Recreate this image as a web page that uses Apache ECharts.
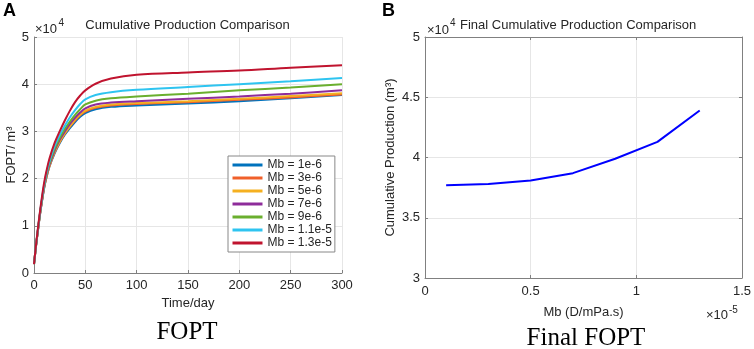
<!DOCTYPE html>
<html>
<head>
<meta charset="utf-8">
<script src="https://cdn.jsdelivr.net/npm/echarts@6/dist/echarts.min.js"></script>
<style>
  html, body { margin: 0; padding: 0; background: #fff; }
  #chart { width: 754px; height: 349px; }
</style>
</head>
<body>
<div id="chart"></div>
<script>
// time axis (day) and FOPT curves, values in units of 1e4 m3
const days = [0, 2, 4, 6, 8, 10, 12, 15, 20, 25, 30, 35, 40, 45, 50, 60, 75, 100, 150, 200, 250, 300];
const foptMb1e6  = [0.19, 0.58, 0.93, 1.26, 1.55, 1.81, 2.01, 2.25, 2.53, 2.75, 2.93, 3.07, 3.20, 3.31, 3.39, 3.47, 3.52, 3.55, 3.59, 3.64, 3.70, 3.77];
const foptMb3e6  = [0.19, 0.58, 0.93, 1.27, 1.56, 1.82, 2.02, 2.26, 2.55, 2.77, 2.95, 3.10, 3.23, 3.34, 3.42, 3.50, 3.55, 3.58, 3.62, 3.67, 3.72, 3.78];
const foptMb5e6  = [0.19, 0.58, 0.94, 1.27, 1.56, 1.83, 2.03, 2.27, 2.56, 2.78, 2.96, 3.11, 3.25, 3.36, 3.44, 3.52, 3.57, 3.60, 3.64, 3.69, 3.75, 3.81];
const foptMb7e6  = [0.19, 0.58, 0.94, 1.28, 1.57, 1.84, 2.05, 2.29, 2.59, 2.82, 3.00, 3.16, 3.29, 3.40, 3.49, 3.57, 3.61, 3.64, 3.69, 3.74, 3.80, 3.87];
const foptMb9e6  = [0.19, 0.59, 0.95, 1.29, 1.59, 1.86, 2.07, 2.32, 2.63, 2.86, 3.05, 3.21, 3.35, 3.47, 3.57, 3.65, 3.70, 3.74, 3.80, 3.87, 3.93, 4.00];
const foptMb11e6 = [0.19, 0.59, 0.96, 1.30, 1.61, 1.88, 2.10, 2.36, 2.68, 2.92, 3.12, 3.30, 3.45, 3.58, 3.68, 3.77, 3.83, 3.88, 3.94, 4.00, 4.06, 4.13];
const foptMb13e6 = [0.19, 0.60, 0.98, 1.33, 1.65, 1.93, 2.15, 2.42, 2.75, 3.00, 3.23, 3.44, 3.62, 3.76, 3.87, 4.01, 4.12, 4.20, 4.25, 4.29, 4.35, 4.40];
const curveNames = ["Mb = 1e-6", "Mb = 3e-6", "Mb = 5e-6", "Mb = 7e-6", "Mb = 9e-6", "Mb = 1.1e-5", "Mb = 1.3e-5"];
const curveColors = ["#0072BD", "#F0602A", "#F5B020", "#8E2C9A", "#6AAF2E", "#2EC4F0", "#C0142F"];

// final FOPT vs Mb (Mb in 1e-5 D/mPa.s, FOPT in 1e4 m3)
const mbValues = [0.1, 0.3, 0.5, 0.7, 0.9, 1.1, 1.3];
const finalFopt = [3.77, 3.78, 3.81, 3.87, 3.99, 4.13, 4.39];

const font = "Liberation Sans, Arial, sans-serif";
const txt = "#262626";
const axisGray = "#808080";
const gridGray = "#e6e6e6";

const curves = [foptMb1e6, foptMb3e6, foptMb5e6, foptMb7e6, foptMb9e6, foptMb11e6, foptMb13e6];

function axisBase(extra) {
  return Object.assign({
    type: "value",
    axisLine: { show: true, onZero: false, lineStyle: { color: axisGray, width: 1 } },
    axisTick: { show: true, inside: true, length: 3, lineStyle: { color: axisGray } },
    axisLabel: { fontSize: 13, color: txt, fontFamily: font },
    splitLine: { show: true, lineStyle: { color: gridGray, width: 1 } },
    nameTextStyle: { fontSize: 13, color: txt, fontFamily: font }
  }, extra);
}

const chart = echarts.init(document.getElementById("chart"));

const seriesA = curves.map(function (vals, i) {
  return {
    name: curveNames[i],
    type: "line",
    xAxisIndex: 0,
    yAxisIndex: 0,
    symbol: "none",
    smooth: 0.35,
    lineStyle: { color: curveColors[i], width: 2 },
    itemStyle: { color: curveColors[i] },
    data: days.map(function (d, k) { return [d, vals[k]]; })
  };
});

function label(x, y, text, size, align) {
  return {
    type: "text",
    x: x,
    y: y,
    style: {
      text: text,
      font: size + "px " + font,
      fill: txt,
      align: align || "left",
      verticalAlign: "middle",
      textAlign: align || "left",
      textVerticalAlign: "middle"
    }
  };
}

const option = {
  animation: false,
  backgroundColor: "#fff",
  grid: [
    { left: 34, top: 37, width: 308, height: 236 },
    { left: 425, top: 37, width: 317, height: 241 }
  ],
  legend: {
    data: curveNames,
    orient: "vertical",
    left: 228,
    top: 156,
    itemWidth: 30,
    itemHeight: 14,
    itemGap: 1,
    padding: [3, 3, 3, 3],
    borderColor: "#888",
    borderWidth: 1,
    backgroundColor: "#fff",
    itemStyle: { opacity: 0 },
    lineStyle: { width: 3 },
    textStyle: { fontSize: 12, color: txt, fontFamily: font }
  },
  xAxis: [
    axisBase({
      gridIndex: 0, min: 0, max: 300, interval: 50,
      axisLabel: { fontSize: 13, color: txt, fontFamily: font, margin: 6 },
      name: "Time/day", nameLocation: "middle", nameGap: 24
    }),
    axisBase({
      gridIndex: 1, min: 0, max: 1.5, interval: 0.5,
      axisLabel: { fontSize: 13, color: txt, fontFamily: font, margin: 7 },
      name: "Mb (D/mPa.s)", nameLocation: "middle", nameGap: 28
    }),
    axisBase({
      gridIndex: 1, min: 0, max: 1.5, interval: 0.5, position: "top",
      axisLabel: { show: false }, splitLine: { show: false }
    })
  ],
  yAxis: [
    axisBase({
      gridIndex: 0, min: 0, max: 5, interval: 1,
      axisLabel: { fontSize: 13, color: txt, fontFamily: font, margin: 5 },
      name: "FOPT/ m³", nameLocation: "middle", nameGap: 15
    }),
    axisBase({
      gridIndex: 1, min: 3, max: 5, interval: 0.5,
      axisLabel: { fontSize: 13, color: txt, fontFamily: font, margin: 5 },
      name: "Cumulative Production (m³)", nameLocation: "middle", nameGap: 28
    }),
    axisBase({
      gridIndex: 1, min: 3, max: 5, interval: 0.5, position: "right",
      axisLabel: { show: false }, splitLine: { show: false }
    })
  ],
  series: seriesA.concat([
    {
      name: "Final FOPT",
      type: "line",
      xAxisIndex: 1,
      yAxisIndex: 1,
      symbol: "none",
      lineStyle: { color: "#0000FF", width: 2 },
      itemStyle: { color: "#0000FF" },
      data: mbValues.map(function (m, k) { return [m, finalFopt[k]]; })
    }
  ]),
  graphic: [
    { type: "text", x: 3, y: 11, style: { text: "A", font: "bold 18px " + font, fill: "#000", verticalAlign: "middle", textVerticalAlign: "middle" } },
    { type: "text", x: 382, y: 11, style: { text: "B", font: "bold 18px " + font, fill: "#000", verticalAlign: "middle", textVerticalAlign: "middle" } },
    // panel A title and exponent
    label(187.5, 25.5, "Cumulative Production Comparison", 13, "center"),
    label(35, 29.5, "×10", 13),
    label(58.5, 23, "4", 10),
    // panel B title and exponents
    label(427, 30, "×10", 13),
    label(450, 23.5, "4", 10),
    label(460, 25.5, "Final Cumulative Production Comparison", 13),
    label(706, 315, "×10", 13),
    label(729, 310, "-5", 10),
    // captions
    { type: "text", x: 187, y: 332, style: { text: "FOPT", font: "25px Liberation Serif, Times New Roman, serif", fill: "#000",
      align: "center", verticalAlign: "middle", textAlign: "center", textVerticalAlign: "middle" } },
    { type: "text", x: 586, y: 338, style: { text: "Final FOPT", font: "25px Liberation Serif, Times New Roman, serif", fill: "#000",
      align: "center", verticalAlign: "middle", textAlign: "center", textVerticalAlign: "middle" } }
  ]
};

chart.setOption(option);
</script>
</body>
</html>
